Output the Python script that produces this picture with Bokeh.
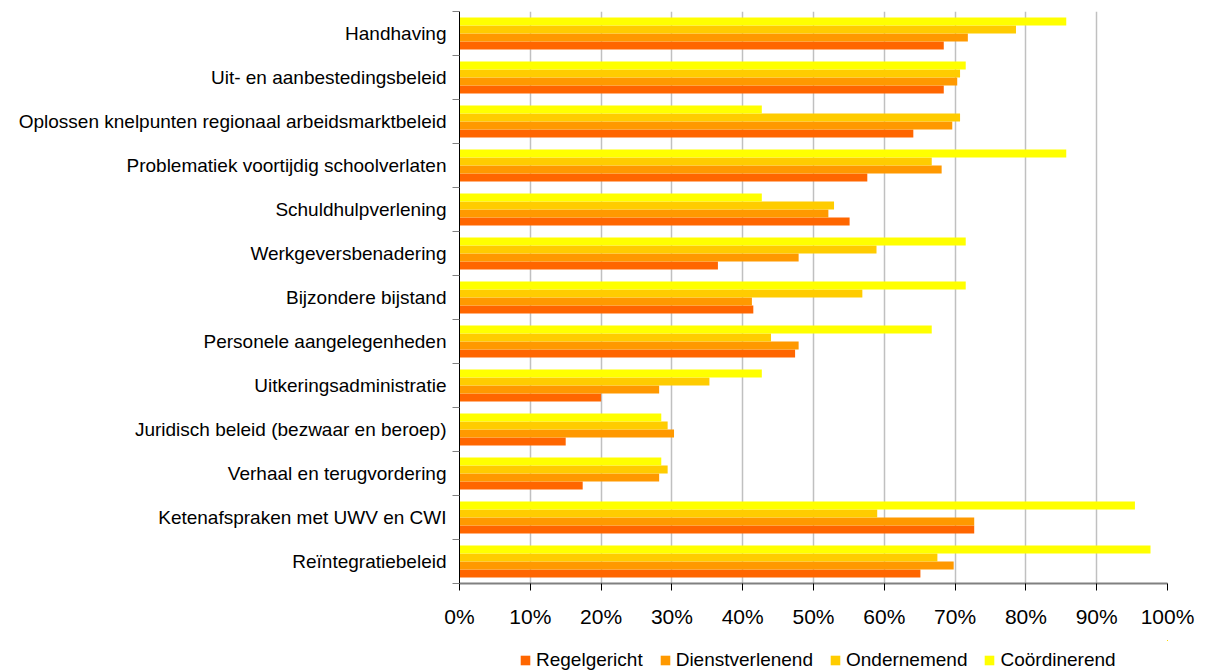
from bokeh.plotting import figure
from bokeh.layouts import column
from bokeh.models import Range1d, FixedTicker, PrintfTickFormatter, Legend, LegendItem
from bokeh.embed import file_html
from bokeh.resources import INLINE

categories = [
    "Handhaving",
    "Uit- en aanbestedingsbeleid",
    "Oplossen knelpunten regionaal arbeidsmarktbeleid",
    "Problematiek voortijdig schoolverlaten",
    "Schuldhulpverlening",
    "Werkgeversbenadering",
    "Bijzondere bijstand",
    "Personele aangelegenheden",
    "Uitkeringsadministratie",
    "Juridisch beleid (bezwaar en beroep)",
    "Verhaal en terugvordering",
    "Ketenafspraken met UWV en CWI",
    "Reïntegratiebeleid",
]

regelgericht = [68.4, 68.4, 64.1, 57.6, 55.1, 36.5, 41.5, 47.4, 20.0, 15.0, 17.4, 72.7, 65.1]
dienstverlenend = [71.8, 70.3, 69.6, 68.1, 52.1, 47.9, 41.3, 47.9, 28.2, 30.3, 28.2, 72.7, 69.8]
ondernemend = [78.6, 70.7, 70.7, 66.7, 52.9, 58.9, 56.9, 44.0, 35.3, 29.4, 29.4, 59.0, 67.5]
coordinerend = [85.7, 71.5, 42.7, 85.7, 42.7, 71.5, 71.5, 66.7, 42.7, 28.5, 28.5, 95.4, 97.6]

series_names = ["Regelgericht", "Dienstverlenend", "Ondernemend", "Coördinerend"]
series_values = [regelgericht, dienstverlenend, ondernemend, coordinerend]
series_colors = ["#FF6600", "#FF9900", "#FFCC00", "#FFFF00"]
x_ticks = [0, 10, 20, 30, 40, 50, 60, 70, 80, 90, 100]

n = len(categories)
bar_h = 8.0 / 44.0
# offsets within a group: Regelgericht lowest, Coördinerend on top
offsets = [1.5 * bar_h, 0.5 * bar_h, -0.5 * bar_h, -1.5 * bar_h]

FONT = "Liberation Sans"

p = figure(
    width=1200, height=640,
    output_backend="svg", toolbar_location=None,
    x_range=Range1d(0, 100), y_range=Range1d(n - 0.5, -0.5),
    min_border_left=459, min_border_right=33, min_border_top=11, min_border_bottom=57,
)
p.outline_line_color = None

for name, vals, col, off in zip(series_names, series_values, series_colors, offsets):
    ys = [i + off for i in range(n)]
    p.hbar(y=ys, right=vals, left=0, height=bar_h, fill_color=col, line_color=None)

# x axis
xa = p.xaxis[0]
xa.ticker = FixedTicker(ticks=x_ticks)
xa.formatter = PrintfTickFormatter(format="%d%%")
xa.axis_line_color = "#808080"
xa.axis_line_width = 2
xa.major_tick_line_color = "black"
xa.major_tick_out = 7
xa.major_tick_in = 0
xa.minor_tick_line_color = None
xa.major_label_text_font = FONT
xa.major_label_text_font_size = "21px"
xa.major_label_text_color = "black"
xa.major_label_standoff = 14

# y axis: labels at category centres, tick marks between categories
ya = p.yaxis[0]
ya.ticker = FixedTicker(ticks=list(range(n)), minor_ticks=[i - 0.5 for i in range(n + 1)])
ya.major_label_overrides = {i: c for i, c in enumerate(categories)}
ya.major_tick_out = 0
ya.major_tick_in = 0
ya.minor_tick_out = 7
ya.minor_tick_in = 0
ya.minor_tick_line_color = "#808080"
ya.axis_line_color = "black"
ya.axis_line_width = 1
ya.major_label_text_font = FONT
ya.major_label_text_font_size = "19px"
ya.major_label_text_color = "black"
ya.major_label_standoff = 6

p.xgrid.ticker = FixedTicker(ticks=x_ticks)
p.xgrid.grid_line_color = "#c0c0c0"
p.xgrid.grid_line_width = 1.5
p.ygrid.grid_line_color = None

# legend in its own strip below the chart (its frame aligns with the chart's frame)
lf = figure(
    width=1200, height=31,
    output_backend="svg", toolbar_location=None,
    x_axis_type=None, y_axis_type=None,
    x_range=Range1d(-20, -10), y_range=Range1d(-20, -10),
    min_border=0,
)
lf.outline_line_color = None
lf.grid.grid_line_color = None
items = []
for name, vals, col in zip(series_names, series_values, series_colors):
    r = lf.hbar(y=list(range(n)), right=vals, left=0, height=bar_h, fill_color=col, line_color=None)
    items.append(LegendItem(label=name, renderers=[r]))

legend = Legend(
    items=items,
    orientation="horizontal",
    location=(60, 0),
    label_text_font=FONT,
    label_text_font_size="19px",
    label_text_color="black",
    glyph_width=12, glyph_height=12,
    label_standoff=5, spacing=16,
    padding=0, margin=0,
    border_line_color=None,
    background_fill_alpha=0,
    label_height=22,
)
lf.add_layout(legend, "center")

layout = column(p, lf, spacing=0)
open("out.html", "w").write(file_html(layout, INLINE))
